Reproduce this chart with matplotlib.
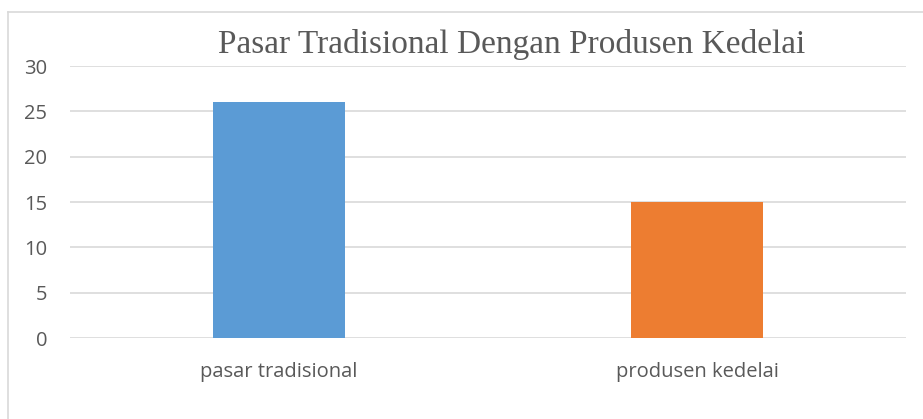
import matplotlib
matplotlib.use("Agg")
import matplotlib.pyplot as plt
from matplotlib.lines import Line2D

categories = ["pasar tradisional", "produsen kedelai"]
values = [26, 15]
colors = ["#5B9BD5", "#ED7D31"]
yticks = [0, 5, 10, 15, 20, 25, 30]
title = "Pasar Tradisional Dengan Produsen Kedelai"

W, H = 923, 419
fig = plt.figure(figsize=(W / 100, H / 100), dpi=100)
ax = fig.add_axes([70 / W, 1 - 338 / H, (906 - 70) / W, (338 - 66) / H])

x = list(range(len(categories)))
ax.bar(x, values, width=0.316, color=colors, zorder=3)
ax.set_xlim(-0.5, len(categories) - 0.5)
ax.set_ylim(0, 30)
ax.set_yticks(yticks)
ax.set_xticks(x)
ax.set_xticklabels(categories)
ax.grid(axis="y", color="#D9D9D9", linewidth=1.2, zorder=0)
for s in ax.spines.values():
    s.set_visible(False)
ax.tick_params(length=0, colors="#595959", labelsize=14.5)
ax.tick_params(axis="y", pad=16.5)
ax.tick_params(axis="x", pad=17)
for lab in ax.get_xticklabels() + ax.get_yticklabels():
    lab.set_fontfamily("Open Sans")

fig.text(512 / W, 1 - 45 / H, title, ha="center", va="center",
         fontfamily="Liberation Serif", fontsize=24, color="#595959")

# chart border (left and top visible)
fig.add_artist(Line2D([8 / W, 8 / W], [0, 1 - 12 / H], transform=fig.transFigure,
                      color="#D9D9D9", linewidth=1.2))
fig.add_artist(Line2D([8 / W, 1], [1 - 12 / H, 1 - 12 / H], transform=fig.transFigure,
                      color="#D9D9D9", linewidth=1.2))

fig.savefig("out.png", dpi=100)
